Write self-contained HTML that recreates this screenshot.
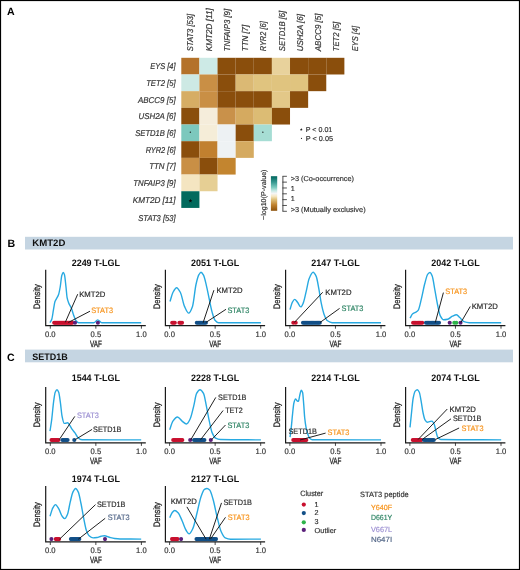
<!DOCTYPE html>
<html><head><meta charset="utf-8"><style>
html,body{margin:0;padding:0;background:#fff;}
svg{display:block;font-family:"Liberation Sans", sans-serif;will-change:transform;text-rendering:geometricPrecision;}
</style></head><body>
<svg width="520" height="570" viewBox="0 0 520 570">
<rect x="0" y="0" width="520" height="570" fill="#fff"/>
<text x="7.00" y="14.80" font-size="10.6" fill="#000" font-weight="bold">A</text>
<rect x="181.30" y="57.80" width="18.12" height="16.68" fill="#b4722a"/>
<rect x="199.42" y="57.80" width="18.12" height="16.68" fill="#cdeae6"/>
<rect x="217.54" y="57.80" width="18.12" height="16.68" fill="#8a4e0c"/>
<rect x="235.66" y="57.80" width="18.12" height="16.68" fill="#8a4e0c"/>
<rect x="253.78" y="57.80" width="18.12" height="16.68" fill="#8a4e0c"/>
<rect x="271.90" y="57.80" width="18.12" height="16.68" fill="#e8d29c"/>
<rect x="290.02" y="57.80" width="18.12" height="16.68" fill="#8a4e0c"/>
<rect x="308.14" y="57.80" width="18.12" height="16.68" fill="#8a4e0c"/>
<rect x="326.26" y="57.80" width="18.12" height="16.68" fill="#8a4e0c"/>
<rect x="181.30" y="74.48" width="18.12" height="16.68" fill="#cde9e4"/>
<rect x="199.42" y="74.48" width="18.12" height="16.68" fill="#c98f45"/>
<rect x="217.54" y="74.48" width="18.12" height="16.68" fill="#8a4e0c"/>
<rect x="235.66" y="74.48" width="18.12" height="16.68" fill="#dbb974"/>
<rect x="253.78" y="74.48" width="18.12" height="16.68" fill="#e0c47f"/>
<rect x="271.90" y="74.48" width="18.12" height="16.68" fill="#e0c47f"/>
<rect x="290.02" y="74.48" width="18.12" height="16.68" fill="#e0c47f"/>
<rect x="308.14" y="74.48" width="18.12" height="16.68" fill="#8a4e0c"/>
<rect x="181.30" y="91.16" width="18.12" height="16.68" fill="#d6ad64"/>
<rect x="199.42" y="91.16" width="18.12" height="16.68" fill="#c98f45"/>
<rect x="217.54" y="91.16" width="18.12" height="16.68" fill="#8a4e0c"/>
<rect x="235.66" y="91.16" width="18.12" height="16.68" fill="#8a4e0c"/>
<rect x="253.78" y="91.16" width="18.12" height="16.68" fill="#8a4e0c"/>
<rect x="271.90" y="91.16" width="18.12" height="16.68" fill="#e3c888"/>
<rect x="290.02" y="91.16" width="18.12" height="16.68" fill="#8a4e0c"/>
<rect x="181.30" y="107.84" width="18.12" height="16.68" fill="#8a4e0c"/>
<rect x="199.42" y="107.84" width="18.12" height="16.68" fill="#f5eddb"/>
<rect x="217.54" y="107.84" width="18.12" height="16.68" fill="#c9914a"/>
<rect x="235.66" y="107.84" width="18.12" height="16.68" fill="#d5aa60"/>
<rect x="253.78" y="107.84" width="18.12" height="16.68" fill="#dcbc74"/>
<rect x="271.90" y="107.84" width="18.12" height="16.68" fill="#8a4e0c"/>
<rect x="181.30" y="124.52" width="18.12" height="16.68" fill="#7cc8bd"/>
<rect x="199.42" y="124.52" width="18.12" height="16.68" fill="#f5edd8"/>
<rect x="217.54" y="124.52" width="18.12" height="16.68" fill="#edf1f3"/>
<rect x="235.66" y="124.52" width="18.12" height="16.68" fill="#8a4e0c"/>
<rect x="253.78" y="124.52" width="18.12" height="16.68" fill="#a6ddd4"/>
<rect x="181.30" y="141.20" width="18.12" height="16.68" fill="#8a4e0c"/>
<rect x="199.42" y="141.20" width="18.12" height="16.68" fill="#c1802f"/>
<rect x="217.54" y="141.20" width="18.12" height="16.68" fill="#eef2f4"/>
<rect x="235.66" y="141.20" width="18.12" height="16.68" fill="#d5aa60"/>
<rect x="181.30" y="157.88" width="18.12" height="16.68" fill="#c98f45"/>
<rect x="199.42" y="157.88" width="18.12" height="16.68" fill="#8a4e0c"/>
<rect x="217.54" y="157.88" width="18.12" height="16.68" fill="#c3852f"/>
<rect x="181.30" y="174.56" width="18.12" height="16.68" fill="#f4e5c1"/>
<rect x="199.42" y="174.56" width="18.12" height="16.68" fill="#e6cf94"/>
<rect x="181.30" y="191.24" width="18.12" height="16.68" fill="#026a5d"/>
<circle cx="190.36" cy="132.16" r="0.7" fill="#1a1a1a"/>
<circle cx="262.84" cy="132.16" r="0.7" fill="#1a1a1a"/>
<polygon points="190.45,198.80 190.95,200.11 192.35,200.18 191.26,201.06 191.63,202.42 190.45,201.65 189.27,202.42 189.64,201.06 188.55,200.18 189.95,200.11" fill="#0a0a0a"/>
<text x="150.30" y="69.24" font-size="8.5" fill="#333" stroke="#333" stroke-width="0.18" font-style="italic" textLength="25.30" lengthAdjust="spacingAndGlyphs">EYS [4]</text>
<text x="146.20" y="85.92" font-size="8.5" fill="#333" stroke="#333" stroke-width="0.18" font-style="italic" textLength="29.40" lengthAdjust="spacingAndGlyphs">TET2 [5]</text>
<text x="138.00" y="102.60" font-size="8.5" fill="#333" stroke="#333" stroke-width="0.18" font-style="italic" textLength="37.60" lengthAdjust="spacingAndGlyphs">ABCC9 [5]</text>
<text x="138.50" y="119.28" font-size="8.5" fill="#333" stroke="#333" stroke-width="0.18" font-style="italic" textLength="37.10" lengthAdjust="spacingAndGlyphs">USH2A [6]</text>
<text x="135.20" y="135.96" font-size="8.5" fill="#333" stroke="#333" stroke-width="0.18" font-style="italic" textLength="40.40" lengthAdjust="spacingAndGlyphs">SETD1B [6]</text>
<text x="145.70" y="152.64" font-size="8.5" fill="#333" stroke="#333" stroke-width="0.18" font-style="italic" textLength="29.90" lengthAdjust="spacingAndGlyphs">RYR2 [6]</text>
<text x="149.20" y="169.32" font-size="8.5" fill="#333" stroke="#333" stroke-width="0.18" font-style="italic" textLength="26.40" lengthAdjust="spacingAndGlyphs">TTN [7]</text>
<text x="133.30" y="186.00" font-size="8.5" fill="#333" stroke="#333" stroke-width="0.18" font-style="italic" textLength="42.30" lengthAdjust="spacingAndGlyphs">TNFAIP3 [9]</text>
<text x="132.70" y="202.68" font-size="8.5" fill="#333" stroke="#333" stroke-width="0.18" font-style="italic" textLength="42.90" lengthAdjust="spacingAndGlyphs">KMT2D [11]</text>
<text x="138.30" y="221.26" font-size="8.5" fill="#333" stroke="#333" stroke-width="0.18" font-style="italic" textLength="37.30" lengthAdjust="spacingAndGlyphs">STAT3 [53]</text>
<text x="193.46" y="51.20" font-size="8.5" fill="#333" stroke="#333" stroke-width="0.18" font-style="italic" textLength="37.30" lengthAdjust="spacingAndGlyphs" transform="rotate(-90 193.46 51.20)">STAT3 [53]</text>
<text x="211.71" y="51.20" font-size="8.5" fill="#333" stroke="#333" stroke-width="0.18" font-style="italic" textLength="42.90" lengthAdjust="spacingAndGlyphs" transform="rotate(-90 211.71 51.20)">KMT2D [11]</text>
<text x="229.96" y="51.20" font-size="8.5" fill="#333" stroke="#333" stroke-width="0.18" font-style="italic" textLength="42.30" lengthAdjust="spacingAndGlyphs" transform="rotate(-90 229.96 51.20)">TNFAIP3 [9]</text>
<text x="248.21" y="51.20" font-size="8.5" fill="#333" stroke="#333" stroke-width="0.18" font-style="italic" textLength="26.40" lengthAdjust="spacingAndGlyphs" transform="rotate(-90 248.21 51.20)">TTN [7]</text>
<text x="266.46" y="51.20" font-size="8.5" fill="#333" stroke="#333" stroke-width="0.18" font-style="italic" textLength="29.90" lengthAdjust="spacingAndGlyphs" transform="rotate(-90 266.46 51.20)">RYR2 [6]</text>
<text x="284.71" y="51.20" font-size="8.5" fill="#333" stroke="#333" stroke-width="0.18" font-style="italic" textLength="40.40" lengthAdjust="spacingAndGlyphs" transform="rotate(-90 284.71 51.20)">SETD1B [6]</text>
<text x="302.96" y="51.20" font-size="8.5" fill="#333" stroke="#333" stroke-width="0.18" font-style="italic" textLength="37.10" lengthAdjust="spacingAndGlyphs" transform="rotate(-90 302.96 51.20)">USH2A [6]</text>
<text x="321.21" y="51.20" font-size="8.5" fill="#333" stroke="#333" stroke-width="0.18" font-style="italic" textLength="37.60" lengthAdjust="spacingAndGlyphs" transform="rotate(-90 321.21 51.20)">ABCC9 [5]</text>
<text x="339.46" y="51.20" font-size="8.5" fill="#333" stroke="#333" stroke-width="0.18" font-style="italic" textLength="29.40" lengthAdjust="spacingAndGlyphs" transform="rotate(-90 339.46 51.20)">TET2 [5]</text>
<text x="357.71" y="51.20" font-size="8.5" fill="#333" stroke="#333" stroke-width="0.18" font-style="italic" textLength="25.30" lengthAdjust="spacingAndGlyphs" transform="rotate(-90 357.71 51.20)">EYS [4]</text>
<polygon points="301.30,128.10 301.68,129.07 302.73,129.14 301.92,129.80 302.18,130.81 301.30,130.25 300.42,130.81 300.68,129.80 299.87,129.14 300.92,129.07" fill="#222"/>
<circle cx="301.5" cy="138.4" r="0.6" fill="#333"/>
<text x="305.80" y="131.70" font-size="7.0" fill="#333" stroke="#333" stroke-width="0.18" textLength="26.50" lengthAdjust="spacingAndGlyphs">P &lt; 0.01</text>
<text x="305.80" y="141.00" font-size="7.0" fill="#333" stroke="#333" stroke-width="0.18" textLength="27.20" lengthAdjust="spacingAndGlyphs">P &lt; 0.05</text>
<defs><linearGradient id="cb" x1="0" y1="0" x2="0" y2="1">
<stop offset="0" stop-color="#01665e"/><stop offset="0.17" stop-color="#35978f"/><stop offset="0.33" stop-color="#80cdc1"/>
<stop offset="0.42" stop-color="#c7eae5"/><stop offset="0.5" stop-color="#f5f5f5"/><stop offset="0.58" stop-color="#f6e8c3"/>
<stop offset="0.67" stop-color="#dfc27d"/><stop offset="0.83" stop-color="#bf812d"/><stop offset="1" stop-color="#8c510a"/>
</linearGradient></defs>
<rect x="270.9" y="176.2" width="6.3" height="34.6" fill="url(#cb)"/>
<path d="M282.9 176.3 V211.3" stroke="#2a2a2a" stroke-width="0.85" fill="none"/>
<path d="M282.47999999999996 176.30 H286.9" stroke="#2a2a2a" stroke-width="0.8" fill="none"/>
<path d="M282.47999999999996 182.13 H286.9" stroke="#2a2a2a" stroke-width="0.8" fill="none"/>
<path d="M282.47999999999996 187.97 H286.9" stroke="#2a2a2a" stroke-width="0.8" fill="none"/>
<path d="M282.47999999999996 193.80 H286.9" stroke="#2a2a2a" stroke-width="0.8" fill="none"/>
<path d="M282.47999999999996 199.63 H286.9" stroke="#2a2a2a" stroke-width="0.8" fill="none"/>
<path d="M282.47999999999996 205.47 H286.9" stroke="#2a2a2a" stroke-width="0.8" fill="none"/>
<path d="M282.47999999999996 211.30 H286.9" stroke="#2a2a2a" stroke-width="0.8" fill="none"/>
<text x="290.70" y="181.00" font-size="7.2" fill="#333" stroke="#333" stroke-width="0.18" textLength="63.30" lengthAdjust="spacingAndGlyphs">&gt;3 (Co-occurrence)</text>
<text x="290.70" y="190.70" font-size="7.2" fill="#333" stroke="#333" stroke-width="0.18">1</text>
<text x="290.70" y="201.00" font-size="7.2" fill="#333" stroke="#333" stroke-width="0.18">1</text>
<text x="290.70" y="212.10" font-size="7.2" fill="#333" stroke="#333" stroke-width="0.18" textLength="74.90" lengthAdjust="spacingAndGlyphs">&gt;3 (Mutually exclusive)</text>
<text x="266.40" y="220.00" font-size="7.0" fill="#333" stroke="#333" stroke-width="0.18" textLength="50.50" lengthAdjust="spacingAndGlyphs" transform="rotate(-90 266.40 220.00)">−log10(P-value)</text>
<text x="7.60" y="246.60" font-size="10.6" fill="#000" font-weight="bold">B</text>
<rect x="25" y="236.8" width="488" height="12.7" fill="#c5d5e2"/>
<text x="32.30" y="246.30" font-size="9.4" fill="#111" font-weight="bold" textLength="33.10" lengthAdjust="spacingAndGlyphs">KMT2D</text>
<text x="6.90" y="360.80" font-size="10.6" fill="#000" font-weight="bold">C</text>
<rect x="25" y="349.6" width="488" height="12.7" fill="#c5d5e2"/>
<text x="32.30" y="360.00" font-size="9.4" fill="#111" font-weight="bold" textLength="35.40" lengthAdjust="spacingAndGlyphs">SETD1B</text>
<text x="95.85" y="265.75" font-size="9.4" fill="#111" text-anchor="middle" font-weight="bold" textLength="48.40" lengthAdjust="spacingAndGlyphs">2249 T-LGL</text>
<text x="40.10" y="309.10" font-size="9.4" fill="#2a2a2a" stroke="#2a2a2a" stroke-width="0.3" textLength="24.80" lengthAdjust="spacingAndGlyphs" transform="rotate(-90 40.10 309.10)">Density</text>
<path d="M45.70 269.80 V325.60 H145.80" stroke="#1a1a1a" stroke-width="1.2" fill="none"/>
<path d="M50.30 325.60 V328.70" stroke="#1a1a1a" stroke-width="0.8"/>
<text x="50.30" y="336.80" font-size="8.0" fill="#333" stroke="#333" stroke-width="0.18" text-anchor="middle" textLength="10.60" lengthAdjust="spacingAndGlyphs">0.0</text>
<path d="M95.85 325.60 V328.70" stroke="#1a1a1a" stroke-width="0.8"/>
<text x="95.85" y="336.80" font-size="8.0" fill="#333" stroke="#333" stroke-width="0.18" text-anchor="middle" textLength="10.60" lengthAdjust="spacingAndGlyphs">0.5</text>
<path d="M141.40 325.60 V328.70" stroke="#1a1a1a" stroke-width="0.8"/>
<text x="141.40" y="336.80" font-size="8.0" fill="#333" stroke="#333" stroke-width="0.18" text-anchor="middle" textLength="10.60" lengthAdjust="spacingAndGlyphs">1.0</text>
<text x="95.85" y="346.60" font-size="9.2" fill="#2a2a2a" stroke="#2a2a2a" stroke-width="0.3" text-anchor="middle" textLength="11.90" lengthAdjust="spacingAndGlyphs">VAF</text>
<path d="M50.00 322.60 C50.60 321.47 51.20 320.91 51.80 319.20 C52.33 317.68 52.87 313.19 53.40 310.20 C53.90 307.39 54.40 303.28 54.90 301.80 C55.43 300.22 55.97 299.67 56.50 298.60 C57.20 297.20 57.90 296.39 58.60 294.40 C59.13 292.88 59.67 290.00 60.20 287.00 C60.73 284.00 61.27 277.33 61.80 275.50 C62.23 274.01 62.67 272.50 63.10 272.50 C63.53 272.50 63.97 273.36 64.40 274.40 C64.93 275.68 65.47 282.35 66.00 287.00 C66.37 290.20 66.73 295.68 67.10 297.60 C67.60 300.21 68.10 301.51 68.60 302.80 C69.50 305.12 70.40 305.95 71.30 308.10 C72.00 309.78 72.70 312.52 73.40 314.40 C74.27 316.73 75.13 319.65 76.00 320.70 C76.87 321.75 77.73 322.80 78.60 322.80 C83.63 322.80 88.67 322.80 93.70 322.80 C95.03 322.80 96.37 319.90 97.70 319.90 C99.07 319.90 100.43 322.80 101.80 322.80 C114.93 322.80 128.07 322.80 141.20 322.80" stroke="#27a9e1" stroke-width="1.4" fill="none" stroke-linejoin="round"/>
<circle cx="54.20" cy="322.80" r="2.05" fill="#c8102e"/>
<circle cx="55.20" cy="322.80" r="2.05" fill="#c8102e"/>
<circle cx="56.20" cy="322.80" r="2.05" fill="#c8102e"/>
<circle cx="57.20" cy="322.80" r="2.05" fill="#c8102e"/>
<circle cx="58.20" cy="322.80" r="2.05" fill="#c8102e"/>
<circle cx="59.20" cy="322.80" r="2.05" fill="#c8102e"/>
<circle cx="60.20" cy="322.80" r="2.05" fill="#c8102e"/>
<circle cx="61.20" cy="322.80" r="2.05" fill="#c8102e"/>
<circle cx="62.20" cy="322.80" r="2.05" fill="#c8102e"/>
<circle cx="63.20" cy="322.80" r="2.05" fill="#c8102e"/>
<circle cx="64.20" cy="322.80" r="2.05" fill="#c8102e"/>
<circle cx="65.20" cy="322.80" r="2.05" fill="#c8102e"/>
<circle cx="66.20" cy="322.80" r="2.05" fill="#c8102e"/>
<circle cx="67.20" cy="322.80" r="2.05" fill="#c8102e"/>
<circle cx="68.20" cy="322.80" r="2.05" fill="#c8102e"/>
<circle cx="69.20" cy="322.80" r="2.05" fill="#c8102e"/>
<circle cx="70.20" cy="322.80" r="2.05" fill="#c8102e"/>
<circle cx="71.20" cy="322.80" r="2.05" fill="#c8102e"/>
<circle cx="72.20" cy="322.80" r="2.05" fill="#c8102e"/>
<circle cx="75.00" cy="322.80" r="2.05" fill="#5a1f7a"/>
<circle cx="97.90" cy="322.80" r="2.05" fill="#5a1f7a"/>
<text x="79.20" y="296.75" font-size="7.8" fill="#2b2b2b" stroke="#2b2b2b" stroke-width="0.18" textLength="26.20" lengthAdjust="spacingAndGlyphs">KMT2D</text>
<path d="M77.70 294.20 L65.30 322.30" stroke="#151515" stroke-width="0.95"/>
<text x="91.20" y="313.15" font-size="7.8" fill="#f7941d" stroke="#f7941d" stroke-width="0.18" textLength="21.90" lengthAdjust="spacingAndGlyphs">STAT3</text>
<path d="M90.00 311.20 L68.30 322.50" stroke="#151515" stroke-width="0.95"/>
<text x="215.15" y="265.75" font-size="9.4" fill="#111" text-anchor="middle" font-weight="bold" textLength="48.40" lengthAdjust="spacingAndGlyphs">2051 T-LGL</text>
<text x="159.80" y="309.10" font-size="9.4" fill="#2a2a2a" stroke="#2a2a2a" stroke-width="0.3" textLength="24.80" lengthAdjust="spacingAndGlyphs" transform="rotate(-90 159.80 309.10)">Density</text>
<path d="M165.40 269.80 V325.60 H265.10" stroke="#1a1a1a" stroke-width="1.2" fill="none"/>
<path d="M169.60 325.60 V328.70" stroke="#1a1a1a" stroke-width="0.8"/>
<text x="169.60" y="336.80" font-size="8.0" fill="#333" stroke="#333" stroke-width="0.18" text-anchor="middle" textLength="10.60" lengthAdjust="spacingAndGlyphs">0.0</text>
<path d="M215.15 325.60 V328.70" stroke="#1a1a1a" stroke-width="0.8"/>
<text x="215.15" y="336.80" font-size="8.0" fill="#333" stroke="#333" stroke-width="0.18" text-anchor="middle" textLength="10.60" lengthAdjust="spacingAndGlyphs">0.5</text>
<path d="M260.70 325.60 V328.70" stroke="#1a1a1a" stroke-width="0.8"/>
<text x="260.70" y="336.80" font-size="8.0" fill="#333" stroke="#333" stroke-width="0.18" text-anchor="middle" textLength="10.60" lengthAdjust="spacingAndGlyphs">1.0</text>
<text x="215.15" y="346.60" font-size="9.2" fill="#2a2a2a" stroke="#2a2a2a" stroke-width="0.3" text-anchor="middle" textLength="11.90" lengthAdjust="spacingAndGlyphs">VAF</text>
<path d="M170.00 301.50 C170.97 298.50 171.93 294.30 172.90 292.50 C174.13 290.21 175.37 287.70 176.60 287.70 C177.87 287.70 179.13 290.18 180.40 292.50 C181.77 295.00 183.13 303.43 184.50 306.40 C185.90 309.44 187.30 313.10 188.70 313.10 C189.97 313.10 191.23 309.91 192.50 306.40 C193.67 303.17 194.83 289.57 196.00 284.50 C196.97 280.30 197.93 276.31 198.90 274.70 C199.60 273.54 200.30 272.30 201.00 272.30 C201.83 272.30 202.67 273.76 203.50 275.20 C204.47 276.87 205.43 281.65 206.40 285.60 C207.37 289.55 208.33 294.91 209.30 299.40 C210.23 303.73 211.17 308.87 212.10 312.10 C213.07 315.45 214.03 319.08 215.00 320.20 C216.17 321.55 217.33 322.69 218.50 322.70 C232.63 322.79 246.77 322.77 260.90 322.80" stroke="#27a9e1" stroke-width="1.4" fill="none" stroke-linejoin="round"/>
<circle cx="172.20" cy="322.80" r="2.05" fill="#c8102e"/>
<circle cx="173.50" cy="322.80" r="2.05" fill="#c8102e"/>
<circle cx="174.80" cy="322.80" r="2.05" fill="#c8102e"/>
<circle cx="179.40" cy="322.80" r="2.05" fill="#c8102e"/>
<circle cx="180.70" cy="322.80" r="2.05" fill="#c8102e"/>
<circle cx="182.00" cy="322.80" r="2.05" fill="#c8102e"/>
<circle cx="196.80" cy="322.80" r="2.05" fill="#124f87"/>
<circle cx="198.10" cy="322.80" r="2.05" fill="#124f87"/>
<circle cx="199.40" cy="322.80" r="2.05" fill="#124f87"/>
<circle cx="200.70" cy="322.80" r="2.05" fill="#124f87"/>
<circle cx="202.00" cy="322.80" r="2.05" fill="#124f87"/>
<circle cx="203.30" cy="322.80" r="2.05" fill="#124f87"/>
<circle cx="204.60" cy="322.80" r="2.05" fill="#124f87"/>
<circle cx="205.90" cy="322.80" r="2.05" fill="#124f87"/>
<text x="216.40" y="293.25" font-size="7.8" fill="#2b2b2b" stroke="#2b2b2b" stroke-width="0.18" textLength="26.20" lengthAdjust="spacingAndGlyphs">KMT2D</text>
<path d="M213.90 290.20 L203.10 322.70" stroke="#151515" stroke-width="0.95"/>
<text x="227.40" y="312.95" font-size="7.8" fill="#2f8565" stroke="#2f8565" stroke-width="0.18" textLength="21.90" lengthAdjust="spacingAndGlyphs">STAT3</text>
<path d="M226.00 309.30 L205.80 322.50" stroke="#151515" stroke-width="0.95"/>
<text x="335.45" y="265.75" font-size="9.4" fill="#111" text-anchor="middle" font-weight="bold" textLength="48.40" lengthAdjust="spacingAndGlyphs">2147 T-LGL</text>
<text x="280.00" y="309.10" font-size="9.4" fill="#2a2a2a" stroke="#2a2a2a" stroke-width="0.3" textLength="24.80" lengthAdjust="spacingAndGlyphs" transform="rotate(-90 280.00 309.10)">Density</text>
<path d="M285.60 269.80 V325.60 H385.40" stroke="#1a1a1a" stroke-width="1.2" fill="none"/>
<path d="M289.90 325.60 V328.70" stroke="#1a1a1a" stroke-width="0.8"/>
<text x="289.90" y="336.80" font-size="8.0" fill="#333" stroke="#333" stroke-width="0.18" text-anchor="middle" textLength="10.60" lengthAdjust="spacingAndGlyphs">0.0</text>
<path d="M335.45 325.60 V328.70" stroke="#1a1a1a" stroke-width="0.8"/>
<text x="335.45" y="336.80" font-size="8.0" fill="#333" stroke="#333" stroke-width="0.18" text-anchor="middle" textLength="10.60" lengthAdjust="spacingAndGlyphs">0.5</text>
<path d="M381.00 325.60 V328.70" stroke="#1a1a1a" stroke-width="0.8"/>
<text x="381.00" y="336.80" font-size="8.0" fill="#333" stroke="#333" stroke-width="0.18" text-anchor="middle" textLength="10.60" lengthAdjust="spacingAndGlyphs">1.0</text>
<text x="335.45" y="346.60" font-size="9.2" fill="#2a2a2a" stroke="#2a2a2a" stroke-width="0.3" text-anchor="middle" textLength="11.90" lengthAdjust="spacingAndGlyphs">VAF</text>
<path d="M290.00 309.60 C290.77 307.17 291.53 303.65 292.30 302.30 C293.10 300.90 293.90 299.40 294.70 299.40 C295.63 299.40 296.57 301.20 297.50 302.30 C298.60 303.60 299.70 306.90 300.80 306.90 C301.63 306.90 302.47 304.78 303.30 302.90 C304.27 300.72 305.23 295.42 306.20 291.40 C307.17 287.38 308.13 281.02 309.10 278.70 C310.43 275.50 311.77 272.30 313.10 272.30 C314.13 272.30 315.17 274.24 316.20 276.40 C317.10 278.28 318.00 284.34 318.90 289.10 C319.67 293.16 320.43 299.21 321.20 302.90 C322.17 307.55 323.13 311.91 324.10 314.40 C325.23 317.32 326.37 320.01 327.50 320.80 C329.03 321.87 330.57 322.69 332.10 322.70 C348.40 322.79 364.70 322.77 381.00 322.80" stroke="#27a9e1" stroke-width="1.4" fill="none" stroke-linejoin="round"/>
<circle cx="293.30" cy="322.80" r="2.05" fill="#c8102e"/>
<circle cx="295.70" cy="322.80" r="2.05" fill="#c8102e"/>
<circle cx="303.00" cy="322.80" r="2.05" fill="#124f87"/>
<circle cx="304.20" cy="322.80" r="2.05" fill="#124f87"/>
<circle cx="305.40" cy="322.80" r="2.05" fill="#124f87"/>
<circle cx="306.60" cy="322.80" r="2.05" fill="#124f87"/>
<circle cx="307.80" cy="322.80" r="2.05" fill="#124f87"/>
<circle cx="309.00" cy="322.80" r="2.05" fill="#124f87"/>
<circle cx="310.20" cy="322.80" r="2.05" fill="#124f87"/>
<circle cx="311.40" cy="322.80" r="2.05" fill="#124f87"/>
<circle cx="312.60" cy="322.80" r="2.05" fill="#124f87"/>
<circle cx="313.80" cy="322.80" r="2.05" fill="#124f87"/>
<circle cx="315.00" cy="322.80" r="2.05" fill="#124f87"/>
<circle cx="316.20" cy="322.80" r="2.05" fill="#124f87"/>
<circle cx="317.40" cy="322.80" r="2.05" fill="#124f87"/>
<circle cx="318.60" cy="322.80" r="2.05" fill="#124f87"/>
<circle cx="319.80" cy="322.80" r="2.05" fill="#124f87"/>
<text x="325.30" y="294.75" font-size="7.8" fill="#2b2b2b" stroke="#2b2b2b" stroke-width="0.18" textLength="26.20" lengthAdjust="spacingAndGlyphs">KMT2D</text>
<path d="M322.70 292.30 L294.30 322.50" stroke="#151515" stroke-width="0.95"/>
<text x="341.50" y="311.35" font-size="7.8" fill="#2f8565" stroke="#2f8565" stroke-width="0.18" textLength="21.90" lengthAdjust="spacingAndGlyphs">STAT3</text>
<path d="M339.60 308.40 L320.00 322.50" stroke="#151515" stroke-width="0.95"/>
<text x="455.45" y="265.75" font-size="9.4" fill="#111" text-anchor="middle" font-weight="bold" textLength="48.40" lengthAdjust="spacingAndGlyphs">2042 T-LGL</text>
<text x="400.00" y="309.10" font-size="9.4" fill="#2a2a2a" stroke="#2a2a2a" stroke-width="0.3" textLength="24.80" lengthAdjust="spacingAndGlyphs" transform="rotate(-90 400.00 309.10)">Density</text>
<path d="M405.60 269.80 V325.60 H505.40" stroke="#1a1a1a" stroke-width="1.2" fill="none"/>
<path d="M409.90 325.60 V328.70" stroke="#1a1a1a" stroke-width="0.8"/>
<text x="409.90" y="336.80" font-size="8.0" fill="#333" stroke="#333" stroke-width="0.18" text-anchor="middle" textLength="10.60" lengthAdjust="spacingAndGlyphs">0.0</text>
<path d="M455.45 325.60 V328.70" stroke="#1a1a1a" stroke-width="0.8"/>
<text x="455.45" y="336.80" font-size="8.0" fill="#333" stroke="#333" stroke-width="0.18" text-anchor="middle" textLength="10.60" lengthAdjust="spacingAndGlyphs">0.5</text>
<path d="M501.00 325.60 V328.70" stroke="#1a1a1a" stroke-width="0.8"/>
<text x="501.00" y="336.80" font-size="8.0" fill="#333" stroke="#333" stroke-width="0.18" text-anchor="middle" textLength="10.60" lengthAdjust="spacingAndGlyphs">1.0</text>
<text x="455.45" y="346.60" font-size="9.2" fill="#2a2a2a" stroke="#2a2a2a" stroke-width="0.3" text-anchor="middle" textLength="11.90" lengthAdjust="spacingAndGlyphs">VAF</text>
<path d="M410.00 318.20 C410.90 316.73 411.80 314.51 412.70 313.80 C413.60 313.09 414.50 312.95 415.40 312.40 C416.30 311.85 417.20 311.48 418.10 310.40 C419.23 309.04 420.37 302.80 421.50 298.30 C422.60 293.93 423.70 287.55 424.80 283.50 C425.80 279.82 426.80 275.24 427.80 274.10 C428.53 273.26 429.27 272.50 430.00 272.50 C430.73 272.50 431.47 274.30 432.20 276.10 C433.10 278.30 434.00 285.39 434.90 290.20 C435.80 295.01 436.70 300.84 437.60 305.00 C438.50 309.16 439.40 314.13 440.30 315.80 C441.43 317.90 442.57 319.80 443.70 319.80 C445.03 319.80 446.37 319.58 447.70 319.30 C449.27 318.98 450.83 316.93 452.40 316.20 C453.77 315.56 455.13 314.70 456.50 314.70 C457.60 314.70 458.70 316.58 459.80 317.60 C461.17 318.86 462.53 321.13 463.90 321.60 C465.70 322.23 467.50 322.69 469.30 322.70 C479.93 322.79 490.57 322.77 501.20 322.80" stroke="#27a9e1" stroke-width="1.4" fill="none" stroke-linejoin="round"/>
<circle cx="413.10" cy="322.80" r="2.05" fill="#c8102e"/>
<circle cx="414.40" cy="322.80" r="2.05" fill="#c8102e"/>
<circle cx="415.70" cy="322.80" r="2.05" fill="#c8102e"/>
<circle cx="417.00" cy="322.80" r="2.05" fill="#c8102e"/>
<circle cx="418.30" cy="322.80" r="2.05" fill="#c8102e"/>
<circle cx="419.60" cy="322.80" r="2.05" fill="#c8102e"/>
<circle cx="420.90" cy="322.80" r="2.05" fill="#c8102e"/>
<circle cx="422.20" cy="322.80" r="2.05" fill="#c8102e"/>
<circle cx="426.00" cy="322.80" r="2.05" fill="#124f87"/>
<circle cx="427.30" cy="322.80" r="2.05" fill="#124f87"/>
<circle cx="428.60" cy="322.80" r="2.05" fill="#124f87"/>
<circle cx="429.90" cy="322.80" r="2.05" fill="#124f87"/>
<circle cx="431.20" cy="322.80" r="2.05" fill="#124f87"/>
<circle cx="432.50" cy="322.80" r="2.05" fill="#124f87"/>
<circle cx="433.80" cy="322.80" r="2.05" fill="#124f87"/>
<circle cx="435.10" cy="322.80" r="2.05" fill="#124f87"/>
<circle cx="436.40" cy="322.80" r="2.05" fill="#124f87"/>
<circle cx="437.70" cy="322.80" r="2.05" fill="#124f87"/>
<circle cx="439.00" cy="322.80" r="2.05" fill="#124f87"/>
<circle cx="449.70" cy="322.80" r="2.05" fill="#5a1f7a"/>
<circle cx="454.30" cy="322.80" r="2.05" fill="#2db34a"/>
<circle cx="456.30" cy="322.80" r="2.05" fill="#2db34a"/>
<circle cx="460.50" cy="322.80" r="2.05" fill="#5a1f7a"/>
<text x="445.30" y="294.35" font-size="7.8" fill="#f7941d" stroke="#f7941d" stroke-width="0.18" textLength="21.90" lengthAdjust="spacingAndGlyphs">STAT3</text>
<path d="M443.40 292.60 L435.30 322.50" stroke="#151515" stroke-width="0.95"/>
<text x="471.70" y="309.25" font-size="7.8" fill="#2b2b2b" stroke="#2b2b2b" stroke-width="0.18" textLength="26.20" lengthAdjust="spacingAndGlyphs">KMT2D</text>
<path d="M470.30 306.40 L460.90 322.50" stroke="#151515" stroke-width="0.95"/>
<text x="95.85" y="381.45" font-size="9.4" fill="#111" text-anchor="middle" font-weight="bold" textLength="48.40" lengthAdjust="spacingAndGlyphs">1544 T-LGL</text>
<text x="40.10" y="427.30" font-size="9.4" fill="#2a2a2a" stroke="#2a2a2a" stroke-width="0.3" textLength="24.80" lengthAdjust="spacingAndGlyphs" transform="rotate(-90 40.10 427.30)">Density</text>
<path d="M45.70 387.00 V442.80 H145.80" stroke="#1a1a1a" stroke-width="1.2" fill="none"/>
<path d="M50.30 442.80 V445.90" stroke="#1a1a1a" stroke-width="0.8"/>
<text x="50.30" y="454.00" font-size="8.0" fill="#333" stroke="#333" stroke-width="0.18" text-anchor="middle" textLength="10.60" lengthAdjust="spacingAndGlyphs">0.0</text>
<path d="M95.85 442.80 V445.90" stroke="#1a1a1a" stroke-width="0.8"/>
<text x="95.85" y="454.00" font-size="8.0" fill="#333" stroke="#333" stroke-width="0.18" text-anchor="middle" textLength="10.60" lengthAdjust="spacingAndGlyphs">0.5</text>
<path d="M141.40 442.80 V445.90" stroke="#1a1a1a" stroke-width="0.8"/>
<text x="141.40" y="454.00" font-size="8.0" fill="#333" stroke="#333" stroke-width="0.18" text-anchor="middle" textLength="10.60" lengthAdjust="spacingAndGlyphs">1.0</text>
<text x="95.85" y="463.80" font-size="9.2" fill="#2a2a2a" stroke="#2a2a2a" stroke-width="0.3" text-anchor="middle" textLength="11.90" lengthAdjust="spacingAndGlyphs">VAF</text>
<path d="M50.00 431.20 C50.60 427.07 51.20 423.61 51.80 418.80 C52.37 414.26 52.93 406.82 53.50 402.60 C54.07 398.38 54.63 393.49 55.20 392.20 C55.80 390.83 56.40 389.70 57.00 389.70 C57.57 389.70 58.13 390.86 58.70 392.20 C59.27 393.54 59.83 398.65 60.40 402.60 C60.97 406.55 61.53 413.68 62.10 416.40 C62.80 419.76 63.50 423.40 64.20 423.40 C64.87 423.40 65.53 423.22 66.20 423.10 C66.70 423.01 67.20 422.80 67.70 422.80 C68.33 422.80 68.97 424.22 69.60 425.10 C70.40 426.22 71.20 427.95 72.00 429.10 C72.93 430.44 73.87 431.30 74.80 432.60 C75.77 433.95 76.73 436.18 77.70 437.20 C78.67 438.22 79.63 439.35 80.60 439.50 C81.77 439.69 82.93 439.79 84.10 439.80 C103.13 439.89 122.17 439.87 141.20 439.90" stroke="#27a9e1" stroke-width="1.4" fill="none" stroke-linejoin="round"/>
<circle cx="51.50" cy="440.00" r="2.05" fill="#c8102e"/>
<circle cx="52.65" cy="440.00" r="2.05" fill="#c8102e"/>
<circle cx="53.80" cy="440.00" r="2.05" fill="#c8102e"/>
<circle cx="54.95" cy="440.00" r="2.05" fill="#c8102e"/>
<circle cx="56.10" cy="440.00" r="2.05" fill="#c8102e"/>
<circle cx="57.25" cy="440.00" r="2.05" fill="#c8102e"/>
<circle cx="58.40" cy="440.00" r="2.05" fill="#c8102e"/>
<circle cx="62.40" cy="440.00" r="2.05" fill="#124f87"/>
<circle cx="63.70" cy="440.00" r="2.05" fill="#124f87"/>
<circle cx="65.00" cy="440.00" r="2.05" fill="#124f87"/>
<circle cx="66.30" cy="440.00" r="2.05" fill="#124f87"/>
<circle cx="67.60" cy="440.00" r="2.05" fill="#124f87"/>
<circle cx="74.30" cy="440.00" r="2.05" fill="#124f87"/>
<text x="76.90" y="418.45" font-size="7.8" fill="#9c90d2" stroke="#9c90d2" stroke-width="0.18" textLength="21.90" lengthAdjust="spacingAndGlyphs">STAT3</text>
<path d="M74.80 416.40 L59.30 439.50" stroke="#151515" stroke-width="0.95"/>
<text x="93.10" y="432.15" font-size="7.8" fill="#2b2b2b" stroke="#2b2b2b" stroke-width="0.18" textLength="28.40" lengthAdjust="spacingAndGlyphs">SETD1B</text>
<path d="M92.10 429.40 L75.40 439.50" stroke="#151515" stroke-width="0.95"/>
<text x="215.15" y="381.45" font-size="9.4" fill="#111" text-anchor="middle" font-weight="bold" textLength="48.40" lengthAdjust="spacingAndGlyphs">2228 T-LGL</text>
<text x="159.80" y="427.30" font-size="9.4" fill="#2a2a2a" stroke="#2a2a2a" stroke-width="0.3" textLength="24.80" lengthAdjust="spacingAndGlyphs" transform="rotate(-90 159.80 427.30)">Density</text>
<path d="M165.40 387.00 V442.80 H265.10" stroke="#1a1a1a" stroke-width="1.2" fill="none"/>
<path d="M169.60 442.80 V445.90" stroke="#1a1a1a" stroke-width="0.8"/>
<text x="169.60" y="454.00" font-size="8.0" fill="#333" stroke="#333" stroke-width="0.18" text-anchor="middle" textLength="10.60" lengthAdjust="spacingAndGlyphs">0.0</text>
<path d="M215.15 442.80 V445.90" stroke="#1a1a1a" stroke-width="0.8"/>
<text x="215.15" y="454.00" font-size="8.0" fill="#333" stroke="#333" stroke-width="0.18" text-anchor="middle" textLength="10.60" lengthAdjust="spacingAndGlyphs">0.5</text>
<path d="M260.70 442.80 V445.90" stroke="#1a1a1a" stroke-width="0.8"/>
<text x="260.70" y="454.00" font-size="8.0" fill="#333" stroke="#333" stroke-width="0.18" text-anchor="middle" textLength="10.60" lengthAdjust="spacingAndGlyphs">1.0</text>
<text x="215.15" y="463.80" font-size="9.2" fill="#2a2a2a" stroke="#2a2a2a" stroke-width="0.3" text-anchor="middle" textLength="11.90" lengthAdjust="spacingAndGlyphs">VAF</text>
<path d="M169.70 429.70 C170.77 426.83 171.83 422.57 172.90 421.10 C174.43 418.98 175.97 417.00 177.50 417.00 C179.03 417.00 180.57 419.94 182.10 421.10 C183.57 422.21 185.03 424.00 186.50 424.00 C187.73 424.00 188.97 421.31 190.20 418.80 C191.37 416.43 192.53 410.74 193.70 406.10 C194.67 402.25 195.63 395.11 196.60 393.40 C197.73 391.39 198.87 389.70 200.00 389.70 C201.17 389.70 202.33 391.37 203.50 393.40 C204.47 395.08 205.43 401.52 206.40 406.10 C207.37 410.68 208.33 416.68 209.30 421.10 C210.23 425.37 211.17 430.44 212.10 432.60 C213.27 435.30 214.43 437.49 215.60 438.10 C217.13 438.91 218.67 439.46 220.20 439.50 C233.77 439.84 247.33 439.77 260.90 439.90" stroke="#27a9e1" stroke-width="1.4" fill="none" stroke-linejoin="round"/>
<circle cx="173.20" cy="440.00" r="2.05" fill="#c8102e"/>
<circle cx="174.50" cy="440.00" r="2.05" fill="#c8102e"/>
<circle cx="175.80" cy="440.00" r="2.05" fill="#c8102e"/>
<circle cx="177.10" cy="440.00" r="2.05" fill="#c8102e"/>
<circle cx="178.40" cy="440.00" r="2.05" fill="#c8102e"/>
<circle cx="179.70" cy="440.00" r="2.05" fill="#c8102e"/>
<circle cx="181.00" cy="440.00" r="2.05" fill="#c8102e"/>
<circle cx="182.30" cy="440.00" r="2.05" fill="#c8102e"/>
<circle cx="190.20" cy="440.00" r="2.05" fill="#5a1f7a"/>
<circle cx="194.00" cy="440.00" r="2.05" fill="#124f87"/>
<circle cx="195.30" cy="440.00" r="2.05" fill="#124f87"/>
<circle cx="196.60" cy="440.00" r="2.05" fill="#124f87"/>
<circle cx="197.90" cy="440.00" r="2.05" fill="#124f87"/>
<circle cx="199.20" cy="440.00" r="2.05" fill="#124f87"/>
<circle cx="200.50" cy="440.00" r="2.05" fill="#124f87"/>
<circle cx="201.80" cy="440.00" r="2.05" fill="#124f87"/>
<circle cx="203.10" cy="440.00" r="2.05" fill="#124f87"/>
<circle cx="204.40" cy="440.00" r="2.05" fill="#124f87"/>
<circle cx="210.80" cy="440.00" r="2.05" fill="#5a1f7a"/>
<text x="218.10" y="399.85" font-size="7.8" fill="#2b2b2b" stroke="#2b2b2b" stroke-width="0.18" textLength="28.40" lengthAdjust="spacingAndGlyphs">SETD1B</text>
<path d="M215.80 397.40 L190.80 439.70" stroke="#151515" stroke-width="0.95"/>
<text x="225.20" y="413.15" font-size="7.8" fill="#2b2b2b" stroke="#2b2b2b" stroke-width="0.18" textLength="17.50" lengthAdjust="spacingAndGlyphs">TET2</text>
<path d="M223.10 410.50 L200.60 439.70" stroke="#151515" stroke-width="0.95"/>
<text x="227.40" y="427.95" font-size="7.8" fill="#2f8565" stroke="#2f8565" stroke-width="0.18" textLength="21.90" lengthAdjust="spacingAndGlyphs">STAT3</text>
<path d="M225.50 425.00 L211.60 439.70" stroke="#151515" stroke-width="0.95"/>
<text x="335.45" y="381.45" font-size="9.4" fill="#111" text-anchor="middle" font-weight="bold" textLength="48.40" lengthAdjust="spacingAndGlyphs">2214 T-LGL</text>
<text x="280.00" y="427.30" font-size="9.4" fill="#2a2a2a" stroke="#2a2a2a" stroke-width="0.3" textLength="24.80" lengthAdjust="spacingAndGlyphs" transform="rotate(-90 280.00 427.30)">Density</text>
<path d="M285.60 387.00 V442.80 H385.40" stroke="#1a1a1a" stroke-width="1.2" fill="none"/>
<path d="M289.90 442.80 V445.90" stroke="#1a1a1a" stroke-width="0.8"/>
<text x="289.90" y="454.00" font-size="8.0" fill="#333" stroke="#333" stroke-width="0.18" text-anchor="middle" textLength="10.60" lengthAdjust="spacingAndGlyphs">0.0</text>
<path d="M335.45 442.80 V445.90" stroke="#1a1a1a" stroke-width="0.8"/>
<text x="335.45" y="454.00" font-size="8.0" fill="#333" stroke="#333" stroke-width="0.18" text-anchor="middle" textLength="10.60" lengthAdjust="spacingAndGlyphs">0.5</text>
<path d="M381.00 442.80 V445.90" stroke="#1a1a1a" stroke-width="0.8"/>
<text x="381.00" y="454.00" font-size="8.0" fill="#333" stroke="#333" stroke-width="0.18" text-anchor="middle" textLength="10.60" lengthAdjust="spacingAndGlyphs">1.0</text>
<text x="335.45" y="463.80" font-size="9.2" fill="#2a2a2a" stroke="#2a2a2a" stroke-width="0.3" text-anchor="middle" textLength="11.90" lengthAdjust="spacingAndGlyphs">VAF</text>
<path d="M290.00 437.20 C290.43 433.87 290.87 431.06 291.30 427.20 C291.70 423.64 292.10 418.32 292.50 414.60 C292.97 410.26 293.43 404.81 293.90 403.00 C294.43 400.93 294.97 399.00 295.50 399.00 C296.03 399.00 296.57 400.60 297.10 400.90 C297.53 401.15 297.97 401.40 298.40 401.40 C298.83 401.40 299.27 397.27 299.70 395.60 C300.23 393.54 300.77 390.20 301.30 390.20 C301.73 390.20 302.17 391.16 302.60 392.50 C302.97 393.63 303.33 399.74 303.70 404.10 C304.03 408.07 304.37 414.49 304.70 417.70 C305.13 421.87 305.57 424.96 306.00 427.20 C306.53 429.96 307.07 431.94 307.60 433.50 C308.30 435.55 309.00 437.64 309.70 438.30 C310.57 439.12 311.43 439.80 312.30 439.80 C335.20 439.90 358.10 439.87 381.00 439.90" stroke="#27a9e1" stroke-width="1.4" fill="none" stroke-linejoin="round"/>
<circle cx="293.30" cy="440.00" r="2.05" fill="#c8102e"/>
<circle cx="294.30" cy="440.00" r="2.05" fill="#c8102e"/>
<circle cx="295.30" cy="440.00" r="2.05" fill="#c8102e"/>
<circle cx="296.30" cy="440.00" r="2.05" fill="#c8102e"/>
<circle cx="297.30" cy="440.00" r="2.05" fill="#c8102e"/>
<circle cx="298.30" cy="440.00" r="2.05" fill="#c8102e"/>
<circle cx="299.30" cy="440.00" r="2.05" fill="#c8102e"/>
<circle cx="300.30" cy="440.00" r="2.05" fill="#c8102e"/>
<circle cx="301.30" cy="440.00" r="2.05" fill="#c8102e"/>
<circle cx="302.30" cy="440.00" r="2.05" fill="#c8102e"/>
<circle cx="303.30" cy="440.00" r="2.05" fill="#c8102e"/>
<circle cx="304.30" cy="440.00" r="2.05" fill="#c8102e"/>
<circle cx="305.30" cy="440.00" r="2.05" fill="#c8102e"/>
<circle cx="306.30" cy="440.00" r="2.05" fill="#c8102e"/>
<text x="288.50" y="433.75" font-size="7.8" fill="#2b2b2b" stroke="#2b2b2b" stroke-width="0.18" textLength="28.40" lengthAdjust="spacingAndGlyphs">SETD1B</text>
<path d="M300.00 440.00 L300.00 440.00" stroke="#151515" stroke-width="0.95"/>
<text x="327.50" y="435.25" font-size="7.8" fill="#f7941d" stroke="#f7941d" stroke-width="0.18" textLength="21.90" lengthAdjust="spacingAndGlyphs">STAT3</text>
<path d="M325.60 433.10 L300.00 440.00" stroke="#151515" stroke-width="0.95"/>
<text x="455.45" y="381.45" font-size="9.4" fill="#111" text-anchor="middle" font-weight="bold" textLength="48.40" lengthAdjust="spacingAndGlyphs">2074 T-LGL</text>
<text x="400.00" y="427.30" font-size="9.4" fill="#2a2a2a" stroke="#2a2a2a" stroke-width="0.3" textLength="24.80" lengthAdjust="spacingAndGlyphs" transform="rotate(-90 400.00 427.30)">Density</text>
<path d="M405.60 387.00 V442.80 H505.40" stroke="#1a1a1a" stroke-width="1.2" fill="none"/>
<path d="M409.90 442.80 V445.90" stroke="#1a1a1a" stroke-width="0.8"/>
<text x="409.90" y="454.00" font-size="8.0" fill="#333" stroke="#333" stroke-width="0.18" text-anchor="middle" textLength="10.60" lengthAdjust="spacingAndGlyphs">0.0</text>
<path d="M455.45 442.80 V445.90" stroke="#1a1a1a" stroke-width="0.8"/>
<text x="455.45" y="454.00" font-size="8.0" fill="#333" stroke="#333" stroke-width="0.18" text-anchor="middle" textLength="10.60" lengthAdjust="spacingAndGlyphs">0.5</text>
<path d="M501.00 442.80 V445.90" stroke="#1a1a1a" stroke-width="0.8"/>
<text x="501.00" y="454.00" font-size="8.0" fill="#333" stroke="#333" stroke-width="0.18" text-anchor="middle" textLength="10.60" lengthAdjust="spacingAndGlyphs">1.0</text>
<text x="455.45" y="463.80" font-size="9.2" fill="#2a2a2a" stroke="#2a2a2a" stroke-width="0.3" text-anchor="middle" textLength="11.90" lengthAdjust="spacingAndGlyphs">VAF</text>
<path d="M410.00 427.40 C410.50 422.60 411.00 417.60 411.50 413.00 C412.07 407.78 412.63 400.84 413.20 398.00 C413.87 394.65 414.53 391.85 415.20 391.10 C415.90 390.31 416.60 389.70 417.30 389.70 C417.97 389.70 418.63 390.86 419.30 392.20 C419.87 393.34 420.43 397.29 421.00 400.30 C421.70 404.02 422.40 409.84 423.10 413.00 C423.73 415.86 424.37 418.89 425.00 419.90 C425.77 421.12 426.53 422.20 427.30 422.20 C428.07 422.20 428.83 421.78 429.60 421.60 C430.40 421.41 431.20 421.10 432.00 421.10 C432.77 421.10 433.53 422.80 434.30 424.50 C434.87 425.76 435.43 429.30 436.00 431.40 C436.57 433.50 437.13 436.43 437.70 437.20 C438.67 438.52 439.63 439.48 440.60 439.50 C460.80 439.88 481.00 439.77 501.20 439.90" stroke="#27a9e1" stroke-width="1.4" fill="none" stroke-linejoin="round"/>
<circle cx="412.80" cy="440.00" r="2.05" fill="#c8102e"/>
<circle cx="414.00" cy="440.00" r="2.05" fill="#c8102e"/>
<circle cx="415.20" cy="440.00" r="2.05" fill="#c8102e"/>
<circle cx="416.40" cy="440.00" r="2.05" fill="#c8102e"/>
<circle cx="417.60" cy="440.00" r="2.05" fill="#c8102e"/>
<circle cx="418.80" cy="440.00" r="2.05" fill="#c8102e"/>
<circle cx="420.00" cy="440.00" r="2.05" fill="#c8102e"/>
<circle cx="421.20" cy="440.00" r="2.05" fill="#c8102e"/>
<circle cx="424.00" cy="440.00" r="2.05" fill="#124f87"/>
<circle cx="425.40" cy="440.00" r="2.05" fill="#124f87"/>
<circle cx="426.80" cy="440.00" r="2.05" fill="#124f87"/>
<circle cx="428.20" cy="440.00" r="2.05" fill="#124f87"/>
<circle cx="429.60" cy="440.00" r="2.05" fill="#124f87"/>
<circle cx="431.00" cy="440.00" r="2.05" fill="#124f87"/>
<circle cx="432.40" cy="440.00" r="2.05" fill="#124f87"/>
<circle cx="433.80" cy="440.00" r="2.05" fill="#124f87"/>
<text x="449.60" y="411.75" font-size="7.8" fill="#2b2b2b" stroke="#2b2b2b" stroke-width="0.18" textLength="26.20" lengthAdjust="spacingAndGlyphs">KMT2D</text>
<path d="M447.30 409.00 L418.10 439.50" stroke="#151515" stroke-width="0.95"/>
<text x="453.00" y="421.15" font-size="7.8" fill="#2b2b2b" stroke="#2b2b2b" stroke-width="0.18" textLength="28.40" lengthAdjust="spacingAndGlyphs">SETD1B</text>
<path d="M451.00 418.80 L422.10 439.50" stroke="#151515" stroke-width="0.95"/>
<text x="461.60" y="431.45" font-size="7.8" fill="#f7941d" stroke="#f7941d" stroke-width="0.18" textLength="21.90" lengthAdjust="spacingAndGlyphs">STAT3</text>
<path d="M459.10 428.00 L435.40 439.50" stroke="#151515" stroke-width="0.95"/>
<text x="95.85" y="482.05" font-size="9.4" fill="#111" text-anchor="middle" font-weight="bold" textLength="48.40" lengthAdjust="spacingAndGlyphs">1974 T-LGL</text>
<text x="40.10" y="527.10" font-size="9.4" fill="#2a2a2a" stroke="#2a2a2a" stroke-width="0.3" textLength="24.80" lengthAdjust="spacingAndGlyphs" transform="rotate(-90 40.10 527.10)">Density</text>
<path d="M45.70 486.10 V541.90 H145.80" stroke="#1a1a1a" stroke-width="1.2" fill="none"/>
<path d="M50.30 541.90 V545.00" stroke="#1a1a1a" stroke-width="0.8"/>
<text x="50.30" y="553.10" font-size="8.0" fill="#333" stroke="#333" stroke-width="0.18" text-anchor="middle" textLength="10.60" lengthAdjust="spacingAndGlyphs">0.0</text>
<path d="M95.85 541.90 V545.00" stroke="#1a1a1a" stroke-width="0.8"/>
<text x="95.85" y="553.10" font-size="8.0" fill="#333" stroke="#333" stroke-width="0.18" text-anchor="middle" textLength="10.60" lengthAdjust="spacingAndGlyphs">0.5</text>
<path d="M141.40 541.90 V545.00" stroke="#1a1a1a" stroke-width="0.8"/>
<text x="141.40" y="553.10" font-size="8.0" fill="#333" stroke="#333" stroke-width="0.18" text-anchor="middle" textLength="10.60" lengthAdjust="spacingAndGlyphs">1.0</text>
<text x="95.85" y="562.90" font-size="9.2" fill="#2a2a2a" stroke="#2a2a2a" stroke-width="0.3" text-anchor="middle" textLength="11.90" lengthAdjust="spacingAndGlyphs">VAF</text>
<path d="M50.00 516.30 C50.90 513.60 51.80 509.86 52.70 508.20 C53.60 506.54 54.50 504.60 55.40 504.60 C56.53 504.60 57.67 507.09 58.80 508.90 C59.93 510.71 61.07 514.90 62.20 516.30 C63.07 517.37 63.93 518.60 64.80 518.60 C65.70 518.60 66.60 516.42 67.50 514.30 C68.40 512.18 69.30 505.87 70.20 502.20 C71.10 498.53 72.00 493.87 72.90 492.10 C73.80 490.33 74.70 488.50 75.60 488.50 C76.50 488.50 77.40 490.28 78.30 492.10 C79.20 493.92 80.10 499.21 81.00 503.50 C81.90 507.79 82.80 513.84 83.70 518.30 C84.60 522.76 85.50 528.04 86.40 530.50 C87.30 532.96 88.20 535.03 89.10 535.80 C90.43 536.95 91.77 537.90 93.10 537.90 C94.43 537.90 95.77 537.70 97.10 537.50 C98.47 537.29 99.83 536.44 101.20 536.20 C102.30 536.01 103.40 535.80 104.50 535.80 C106.10 535.80 107.70 536.77 109.30 537.20 C111.07 537.67 112.83 538.26 114.60 538.50 C116.40 538.74 118.20 538.98 120.00 539.00 C127.07 539.08 134.13 539.07 141.20 539.10" stroke="#27a9e1" stroke-width="1.4" fill="none" stroke-linejoin="round"/>
<circle cx="51.40" cy="539.10" r="2.05" fill="#5a1f7a"/>
<circle cx="55.80" cy="539.10" r="2.05" fill="#c8102e"/>
<circle cx="56.90" cy="539.10" r="2.05" fill="#c8102e"/>
<circle cx="58.00" cy="539.10" r="2.05" fill="#c8102e"/>
<circle cx="59.10" cy="539.10" r="2.05" fill="#c8102e"/>
<circle cx="70.90" cy="539.10" r="2.05" fill="#124f87"/>
<circle cx="72.10" cy="539.10" r="2.05" fill="#124f87"/>
<circle cx="73.30" cy="539.10" r="2.05" fill="#124f87"/>
<circle cx="74.50" cy="539.10" r="2.05" fill="#124f87"/>
<circle cx="75.70" cy="539.10" r="2.05" fill="#124f87"/>
<circle cx="76.90" cy="539.10" r="2.05" fill="#124f87"/>
<circle cx="78.10" cy="539.10" r="2.05" fill="#124f87"/>
<circle cx="79.30" cy="539.10" r="2.05" fill="#124f87"/>
<circle cx="105.00" cy="539.10" r="2.05" fill="#5a1f7a"/>
<text x="97.00" y="507.05" font-size="7.8" fill="#2b2b2b" stroke="#2b2b2b" stroke-width="0.18" textLength="28.40" lengthAdjust="spacingAndGlyphs">SETD1B</text>
<path d="M95.50 504.60 L59.50 539.20" stroke="#151515" stroke-width="0.95"/>
<text x="107.70" y="520.45" font-size="7.8" fill="#566a8a" stroke="#566a8a" stroke-width="0.18" textLength="21.90" lengthAdjust="spacingAndGlyphs">STAT3</text>
<path d="M105.20 518.30 L78.30 539.20" stroke="#151515" stroke-width="0.95"/>
<text x="215.15" y="482.05" font-size="9.4" fill="#111" text-anchor="middle" font-weight="bold" textLength="48.40" lengthAdjust="spacingAndGlyphs">2127 T-LGL</text>
<text x="159.80" y="527.10" font-size="9.4" fill="#2a2a2a" stroke="#2a2a2a" stroke-width="0.3" textLength="24.80" lengthAdjust="spacingAndGlyphs" transform="rotate(-90 159.80 527.10)">Density</text>
<path d="M165.40 486.10 V541.90 H265.10" stroke="#1a1a1a" stroke-width="1.2" fill="none"/>
<path d="M169.60 541.90 V545.00" stroke="#1a1a1a" stroke-width="0.8"/>
<text x="169.60" y="553.10" font-size="8.0" fill="#333" stroke="#333" stroke-width="0.18" text-anchor="middle" textLength="10.60" lengthAdjust="spacingAndGlyphs">0.0</text>
<path d="M215.15 541.90 V545.00" stroke="#1a1a1a" stroke-width="0.8"/>
<text x="215.15" y="553.10" font-size="8.0" fill="#333" stroke="#333" stroke-width="0.18" text-anchor="middle" textLength="10.60" lengthAdjust="spacingAndGlyphs">0.5</text>
<path d="M260.70 541.90 V545.00" stroke="#1a1a1a" stroke-width="0.8"/>
<text x="260.70" y="553.10" font-size="8.0" fill="#333" stroke="#333" stroke-width="0.18" text-anchor="middle" textLength="10.60" lengthAdjust="spacingAndGlyphs">1.0</text>
<text x="215.15" y="562.90" font-size="9.2" fill="#2a2a2a" stroke="#2a2a2a" stroke-width="0.3" text-anchor="middle" textLength="11.90" lengthAdjust="spacingAndGlyphs">VAF</text>
<path d="M169.80 517.70 C170.57 516.03 171.33 513.64 172.10 512.70 C172.97 511.63 173.83 510.50 174.70 510.50 C175.83 510.50 176.97 511.61 178.10 512.70 C179.47 514.02 180.83 518.01 182.20 521.00 C183.53 523.92 184.87 528.49 186.20 530.50 C187.17 531.96 188.13 533.80 189.10 533.80 C190.37 533.80 191.63 531.00 192.90 528.40 C194.27 525.60 195.63 518.33 197.00 513.00 C198.33 507.80 199.67 500.54 201.00 496.80 C202.13 493.62 203.27 490.06 204.40 489.40 C205.27 488.90 206.13 488.50 207.00 488.50 C207.90 488.50 208.80 489.24 209.70 490.10 C210.83 491.18 211.97 495.68 213.10 499.50 C214.43 503.99 215.77 511.72 217.10 517.00 C218.47 522.41 219.83 528.87 221.20 531.80 C222.53 534.65 223.87 537.32 225.20 537.90 C227.00 538.68 228.80 539.20 230.60 539.20 C240.70 539.20 250.80 539.13 260.90 539.10" stroke="#27a9e1" stroke-width="1.4" fill="none" stroke-linejoin="round"/>
<circle cx="172.00" cy="539.10" r="2.05" fill="#c8102e"/>
<circle cx="173.10" cy="539.10" r="2.05" fill="#c8102e"/>
<circle cx="174.20" cy="539.10" r="2.05" fill="#c8102e"/>
<circle cx="175.30" cy="539.10" r="2.05" fill="#c8102e"/>
<circle cx="176.40" cy="539.10" r="2.05" fill="#c8102e"/>
<circle cx="177.50" cy="539.10" r="2.05" fill="#c8102e"/>
<circle cx="181.10" cy="539.10" r="2.05" fill="#5a1f7a"/>
<circle cx="196.50" cy="539.10" r="2.05" fill="#124f87"/>
<circle cx="197.80" cy="539.10" r="2.05" fill="#124f87"/>
<circle cx="199.10" cy="539.10" r="2.05" fill="#124f87"/>
<circle cx="200.40" cy="539.10" r="2.05" fill="#124f87"/>
<circle cx="201.70" cy="539.10" r="2.05" fill="#124f87"/>
<circle cx="203.00" cy="539.10" r="2.05" fill="#124f87"/>
<circle cx="204.30" cy="539.10" r="2.05" fill="#124f87"/>
<circle cx="205.60" cy="539.10" r="2.05" fill="#124f87"/>
<circle cx="206.90" cy="539.10" r="2.05" fill="#124f87"/>
<circle cx="208.20" cy="539.10" r="2.05" fill="#124f87"/>
<circle cx="209.50" cy="539.10" r="2.05" fill="#124f87"/>
<circle cx="210.80" cy="539.10" r="2.05" fill="#124f87"/>
<circle cx="212.10" cy="539.10" r="2.05" fill="#124f87"/>
<circle cx="213.40" cy="539.10" r="2.05" fill="#124f87"/>
<circle cx="214.70" cy="539.10" r="2.05" fill="#124f87"/>
<circle cx="216.00" cy="539.10" r="2.05" fill="#124f87"/>
<text x="170.70" y="504.05" font-size="7.8" fill="#2b2b2b" stroke="#2b2b2b" stroke-width="0.18" textLength="26.20" lengthAdjust="spacingAndGlyphs">KMT2D</text>
<path d="M186.90 506.90 L206.10 539.20" stroke="#151515" stroke-width="0.95"/>
<text x="223.50" y="504.75" font-size="7.8" fill="#2b2b2b" stroke="#2b2b2b" stroke-width="0.18" textLength="28.40" lengthAdjust="spacingAndGlyphs">SETD1B</text>
<path d="M221.50 502.90 L209.30 539.20" stroke="#151515" stroke-width="0.95"/>
<text x="227.70" y="520.45" font-size="7.8" fill="#f7941d" stroke="#f7941d" stroke-width="0.18" textLength="21.90" lengthAdjust="spacingAndGlyphs">STAT3</text>
<path d="M225.50 517.30 L210.40 539.20" stroke="#151515" stroke-width="0.95"/>
<text x="300.20" y="496.40" font-size="7.7" fill="#333" stroke="#333" stroke-width="0.18" textLength="23.10" lengthAdjust="spacingAndGlyphs">Cluster</text>
<circle cx="303.8" cy="504.6" r="2.1" fill="#c8102e"/>
<text x="314.60" y="506.90" font-size="7.2" fill="#333" stroke="#333" stroke-width="0.18">1</text>
<circle cx="303.8" cy="513.1" r="2.1" fill="#124f87"/>
<text x="314.60" y="515.40" font-size="7.2" fill="#333" stroke="#333" stroke-width="0.18">2</text>
<circle cx="303.8" cy="522.3" r="2.1" fill="#2db34a"/>
<text x="314.60" y="524.20" font-size="7.2" fill="#333" stroke="#333" stroke-width="0.18">3</text>
<circle cx="303.8" cy="529.9" r="2.1" fill="#5a1f7a"/>
<text x="314.60" y="533.10" font-size="7.2" fill="#333" stroke="#333" stroke-width="0.18" textLength="21.60" lengthAdjust="spacingAndGlyphs">Outlier</text>
<text x="360.10" y="496.60" font-size="7.7" fill="#333" stroke="#333" stroke-width="0.18" textLength="48.60" lengthAdjust="spacingAndGlyphs">STAT3 peptide</text>
<text x="371.00" y="509.60" font-size="7.4" fill="#f7941d" stroke="#f7941d" stroke-width="0.18" textLength="21.10" lengthAdjust="spacingAndGlyphs">Y640F</text>
<text x="371.00" y="520.30" font-size="7.4" fill="#2f8565" stroke="#2f8565" stroke-width="0.18" textLength="21.10" lengthAdjust="spacingAndGlyphs">D661Y</text>
<text x="371.00" y="531.50" font-size="7.4" fill="#9c90d2" stroke="#9c90d2" stroke-width="0.18" textLength="21.10" lengthAdjust="spacingAndGlyphs">V667L</text>
<text x="371.00" y="541.80" font-size="7.4" fill="#566a8a" stroke="#566a8a" stroke-width="0.18" textLength="21.10" lengthAdjust="spacingAndGlyphs">N647I</text>
<rect x="0.5" y="0.5" width="519" height="569" fill="none" stroke="#000" stroke-width="1.2"/>
</svg>
</body></html>
